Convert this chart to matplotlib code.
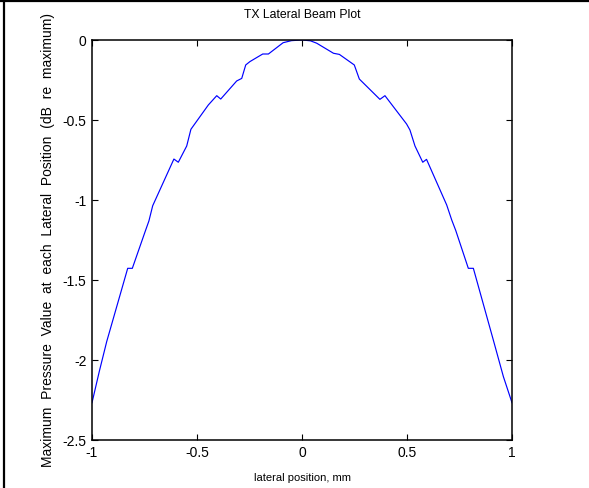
import matplotlib
matplotlib.use('Agg')
import matplotlib.pyplot as plt
from matplotlib.lines import Line2D

plt.rcParams['font.family'] = ['Liberation Sans', 'DejaVu Sans']
plt.rcParams['font.size'] = 10

# lateral position (mm) and max pressure (dB re maximum)
lateral_pos = [-1.0, -0.965, -0.93, -0.83, -0.808, -0.745, -0.729, -0.711,
               -0.61, -0.589, -0.549, -0.529, -0.446, -0.406, -0.387, -0.311,
               -0.287, -0.268, -0.248, -0.216, -0.187, -0.16, -0.09, -0.05,
               0.0, 0.04, 0.07, 0.15, 0.178, 0.249, 0.273, 0.371, 0.395,
               0.498, 0.514, 0.538, 0.575, 0.593, 0.689, 0.713, 0.732, 0.792,
               0.816, 0.911, 0.959, 1.0]
pressure_db = [-2.267, -2.07, -1.885, -1.427, -1.427, -1.19, -1.131, -1.036,
               -0.744, -0.764, -0.6625, -0.558, -0.406, -0.348, -0.369, -0.256,
               -0.24, -0.156, -0.135, -0.11, -0.0875, -0.0875, -0.017, -0.004,
               0.0, -0.005, -0.02, -0.083, -0.09, -0.156, -0.244, -0.371, -0.348,
               -0.525, -0.5625, -0.6625, -0.764, -0.746, -1.031, -1.125, -1.19, -1.427,
               -1.427, -1.875, -2.104, -2.267]

x_ticks = [-1, -0.5, 0, 0.5, 1]
x_ticklabels = ['-1', '-0.5', '0', '0.5', '1']
y_ticks = [0, -0.5, -1, -1.5, -2, -2.5]
y_ticklabels = ['0', '-0.5', '-1', '-1.5', '-2', '-2.5']

fig = plt.figure(figsize=(5.89, 4.88), dpi=100)
ax = fig.add_axes([92/589, 1 - 440/488, 420/589, 400/488])

ax.plot(lateral_pos, pressure_db, color='#0000ff', linewidth=0.85)

ax.set_xlim(-1, 1)
ax.set_ylim(-2.5, 0)
ax.set_xticks(x_ticks)
ax.set_xticklabels(x_ticklabels)
ax.set_yticks(y_ticks)
ax.set_yticklabels(y_ticklabels)
ax.tick_params(direction='in', top=True, right=True, length=4, width=0.8, pad=4)
for sp in ax.spines.values():
    sp.set_linewidth(1.1)

ax.set_title('TX Lateral Beam Plot', fontsize=8.8, pad=16)
ax.set_xlabel('lateral position, mm', fontsize=8, labelpad=10)
ax.set_ylabel('Maximum  Pressure  Value  at  each  Lateral  Position  (dB  re  maximum)',
              fontsize=10, labelpad=5)

# frame lines of the original document screenshot
fig.add_artist(Line2D([4/589, 4/589], [0, 1], transform=fig.transFigure, color='black', linewidth=1.6))
fig.add_artist(Line2D([0, 1], [1 - 0.5/488, 1 - 0.5/488], transform=fig.transFigure, color='black', linewidth=1.6))

fig.savefig('out.png', dpi=100)
